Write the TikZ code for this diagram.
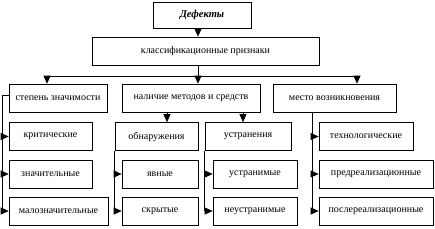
\documentclass[tikz,border=0pt]{standalone}
\usepackage{fontspec}
\setmainfont{Liberation Serif}
\usetikzlibrary{arrows.meta,positioning}

\begin{document}
\begin{tikzpicture}[x=1pt, y=-1pt,
  box/.style  = {draw, line width=0.7pt, inner sep=0pt, font=\fontsize{10}{11}\selectfont,
                 minimum height=28pt},
  arr/.style  = {-{Triangle[length=8pt, width=7pt]}, line width=0.7pt},
  line/.style = {line width=0.7pt}
]
\useasboundingbox (0,0) rectangle (435,228);
%% ---- top ----------------------------------------------------------
\node[box, minimum width=98pt, minimum height=26pt, font=\fontsize{10.5}{11}\selectfont\bfseries\itshape]
  (def) at (202,15) {Дефекты};
\node[box, minimum width=227pt] (kp) at (205.5,51) {классификационные признаки};

%% ---- second row ---------------------------------------------------
\node[box, minimum width=98pt]  (st) at (58,98)    {степень значимости};
\node[box, minimum width=138pt] (nm) at (191,98)   {наличие методов и средств};
\node[box, minimum width=123pt] (mv) at (334.5,98) {место возникновения};

%% ---- degree -------------------------------------------------------
\node[box, minimum width=83pt] (krit) at (50.5,136.5) {критические};
\node[box, minimum width=83pt] (znach) at (50.5,174) {значительные};
\node[box, minimum width=99pt] (malo) at (58.5,211)  {малозначительные};

%% ---- methods ------------------------------------------------------
\node[box, minimum width=83pt] (obn) at (156.5,136.5) {обнаружения};
\node[box, minimum width=76pt] (yav) at (160,174)     {явные};
\node[box, minimum width=76pt] (skr) at (160,211)     {скрытые};

\node[box, minimum width=86pt] (ustr) at (248,136.5) {устранения};
\node[box, minimum width=84pt] (ustm) at (255,174)   {устранимые};
\node[box, minimum width=84pt] (neustr) at (255,211) {неустранимые};

%% ---- place --------------------------------------------------------
\node[box, minimum width=94pt]  (tech) at (366,136.5) {технологические};
\node[box, minimum width=114pt] (pred) at (376,174)   {предреализационные};
\node[box, minimum width=114pt] (posle) at (376,211)  {послереализационные};

%% ---- connectors ---------------------------------------------------
\coordinate (busl) at (47,76);
\coordinate (busm) at (198,76);
\coordinate (busr) at (357,76);
\draw[arr] (198,0 |- def.south) -- (198,0 |- kp.north);
\draw[line] (198,0 |- kp.south) -- (busm);
\draw[line] (busl) -- (busr);
\draw[arr] (busl) -- (busl |- st.north);
\draw[arr] (busm) -- (busm |- nm.north);
\draw[arr] (busr) -- (busr |- mv.north);

\coordinate (stl) at (2,95);
\draw[line] (st.west |- stl) -- (stl) -- (stl |- malo);
\draw[arr] (stl |- krit) -- (krit.west);
\draw[arr] (stl |- znach) -- (znach.west);
\draw[arr] (stl |- malo) -- (malo.west);

\draw[arr] (167,0 |- nm.south) -- (167,0 |- obn.north);
\draw[arr] (243,0 |- nm.south) -- (243,0 |- ustr.north);

\draw[line] (obn.south west) -- (obn.south west |- skr);
\draw[arr] (obn.south west |- yav) -- (yav.west);
\draw[arr] (obn.south west |- skr) -- (skr.west);

\draw[line] (ustr.south west) -- (ustr.south west |- neustr);
\draw[arr] (ustr.south west |- ustm) -- (ustm.west);
\draw[arr] (ustr.south west |- neustr) -- (neustr.west);

\coordinate (mvl) at (312,0 |- mv.south);
\draw[line] (mvl) -- (mvl |- posle);
\draw[arr] (mvl |- tech) -- (tech.west);
\draw[arr] (mvl |- pred) -- (pred.west);
\draw[arr] (mvl |- posle) -- (posle.west);
\end{tikzpicture}
\end{document}
